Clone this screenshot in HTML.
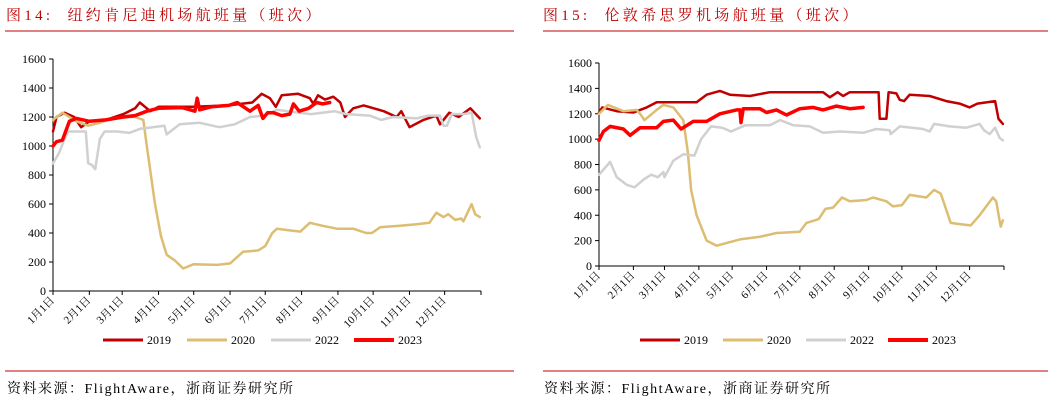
<!DOCTYPE html>
<html><head><meta charset="utf-8"><style>
body{margin:0;background:#fff;width:1057px;height:404px;overflow:hidden;font-family:"Liberation Serif","Noto Serif CJK SC",serif;}
svg{position:absolute;left:0;top:0}
</style></head><body>
<svg id="c" width="1057" height="404">
<text x="6" y="20" fill="#c00000" font-size="15" letter-spacing="3.3" font-family="Liberation Serif, Noto Serif CJK SC, serif">图14:&#160;&#160;纽约肯尼迪机场航班量（班次）</text>
<line x1="5" y1="31" x2="514" y2="31" stroke="#c00000" stroke-width="1"/>
<text x="543" y="20" fill="#c00000" font-size="15" letter-spacing="3.3" font-family="Liberation Serif, Noto Serif CJK SC, serif">图15:&#160;&#160;伦敦希思罗机场航班量（班次）</text>
<line x1="543" y1="31" x2="1048" y2="31" stroke="#c00000" stroke-width="1"/>
<line x1="5" y1="371" x2="514" y2="371" stroke="#c00000" stroke-width="1"/>
<line x1="543" y1="371" x2="1048" y2="371" stroke="#c00000" stroke-width="1"/>
<text x="7" y="393" font-size="14" letter-spacing="1.5" fill="#000">资料来源：FlightAware，浙商证券研究所</text>
<text x="544" y="393" font-size="14" letter-spacing="1.5" fill="#000">资料来源：FlightAware，浙商证券研究所</text>
</svg>
<script>
// ---- Left chart (JFK) data ----
const jfkDays2019=[0,3,10,18,24,31,45,60,70,74,83,90,120,150,160,170,178,185,190,195,209,219,222,226,232,239,245,249,256,265,282,293,297,304,316,327,330,338,346,356,364];
const jfkVals2019=[1100,1200,1230,1200,1130,1170,1180,1220,1260,1300,1240,1270,1270,1280,1290,1300,1360,1330,1270,1350,1360,1330,1290,1350,1320,1340,1300,1200,1260,1280,1240,1200,1240,1130,1180,1210,1150,1230,1200,1260,1190];
const jfkDays2020=[0,8,20,30,40,50,60,70,77,80,87,92,97,104,111,120,140,151,162,175,181,187,191,200,211,219,230,242,256,267,272,279,296,310,321,327,333,337,343,348,350,357,360,364];
const jfkVals2020=[1180,1230,1170,1140,1160,1190,1200,1200,1180,1000,600,380,250,210,155,185,180,190,270,280,310,400,430,420,410,470,450,430,430,400,400,440,450,460,470,540,510,530,490,500,480,600,530,510];
const jfkDays2022=[0,5,10,13,20,28,30,33,36,40,44,55,65,75,85,95,97,108,125,142,155,168,180,191,200,210,220,240,250,270,280,290,310,320,330,333,336,340,350,357,361,364];
const jfkVals2022=[880,950,1050,1100,1100,1100,880,870,840,1050,1100,1100,1090,1120,1130,1140,1080,1150,1160,1130,1150,1200,1210,1250,1240,1230,1220,1240,1220,1210,1180,1200,1190,1210,1210,1140,1140,1220,1220,1230,1060,990];
const jfkDays2023=[0,3,8,14,20,31,45,60,70,80,90,110,121,123,125,135,150,157,168,175,179,183,188,195,202,205,210,218,225,230,236];
const jfkVals2023=[1000,1030,1040,1170,1190,1170,1180,1200,1210,1240,1260,1265,1240,1330,1250,1270,1280,1300,1240,1280,1190,1230,1230,1210,1220,1290,1240,1260,1300,1290,1300];
// ---- Right chart (LHR) data ----
const lhrDays2019=[0,3,16,31,43,52,88,97,109,118,136,154,202,208,215,220,226,252,253,259,261,268,271,275,280,298,313,325,334,341,357,360,364];
const lhrVals2019=[1210,1250,1220,1210,1250,1290,1290,1350,1380,1350,1340,1370,1370,1330,1370,1340,1370,1370,1160,1160,1370,1360,1310,1300,1350,1340,1300,1280,1250,1280,1300,1160,1120];
const lhrDays2020=[0,8,22,34,37,41,52,58,67,76,80,83,88,97,106,127,145,160,181,187,198,204,211,219,226,241,247,259,265,273,280,295,302,308,317,325,335,343,349,355,358,362,364];
const lhrVals2020=[1200,1270,1220,1230,1200,1150,1230,1270,1250,1150,900,600,400,200,160,210,230,260,270,340,370,450,460,540,510,520,540,510,470,480,560,540,600,570,340,330,320,400,470,540,510,310,360];
const lhrDays2022=[0,10,16,25,32,40,47,53,58,59,67,76,86,92,101,111,119,132,154,163,175,190,202,217,238,250,262,263,271,292,298,302,316,331,343,347,352,357,361,364];
const lhrVals2022=[720,820,700,640,620,680,720,700,740,700,830,880,870,1000,1100,1090,1060,1110,1110,1150,1110,1100,1050,1060,1050,1080,1070,1040,1100,1080,1060,1120,1100,1090,1120,1070,1040,1090,1010,990];
const lhrDays2023=[0,4,10,22,28,37,52,58,67,74,85,97,109,124,127,128,130,145,151,160,169,181,193,202,214,226,238];
const lhrVals2023=[990,1060,1100,1080,1030,1090,1090,1140,1150,1080,1140,1140,1200,1230,1230,1130,1240,1240,1210,1230,1190,1240,1250,1230,1260,1240,1250];
const yTicks=[0,200,400,600,800,1000,1200,1400,1600];
const monthLabels=["1月1日","2月1日","3月1日","4月1日","5月1日","6月1日","7月1日","8月1日","9月1日","10月1日","11月1日","12月1日"];
const monthStart=[0,31,59,90,120,151,181,212,243,273,304,334];
const seriesNames=["2019","2020","2022","2023"];
const colors=["#c00000","#dcbd72","#d0d0d0","#ff0000"];
const widths=[2.5,2.5,2.5,3.5];

const NS="http://www.w3.org/2000/svg";
const svg=document.getElementById('c');
function mk(tag,attrs,parent){const e=document.createElementNS(NS,tag);for(const k in attrs)e.setAttribute(k,attrs[k]);(parent||svg).appendChild(e);return e;}

function chart(cfg){
  const g=mk('g',{});
  
  
  const xS=d=>cfg.x0+d*(cfg.x1-cfg.x0)/365;
  const yS=v=>cfg.y0-v*(cfg.y0-cfg.yTop)/1600;
  const ya=mk('line',{x1:cfg.x0,y1:yS(0),x2:cfg.x0,y2:yS(1600),stroke:'#000','stroke-width':1},g);
  
  
  const xa=mk('line',{x1:cfg.x0,y1:yS(0),x2:cfg.x1,y2:yS(0),stroke:'#000','stroke-width':1},g);
  
  
  yTicks.forEach(v=>{
    mk('line',{x1:cfg.x0-4,y1:yS(v),x2:cfg.x0,y2:yS(v),stroke:'#000'},g);
    const t=mk('text',{x:cfg.x0-7,y:yS(v)+4,'text-anchor':'end','font-size':12},g);
    t.textContent=v;
    
    
  });
  monthStart.forEach((d,i)=>{
    const x=xS(d);
    mk('line',{x1:x,y1:yS(0),x2:x,y2:yS(0)+4,stroke:'#000'},g);
    const t=mk('text',{x:x+2,y:yS(0)+10,'text-anchor':'end','font-size':11,transform:`rotate(-45 ${x+2} ${yS(0)+10})`},g);
    t.textContent=monthLabels[i];
    
    
  });
  mk('line',{x1:cfg.x1,y1:yS(0),x2:cfg.x1,y2:yS(0)+4,stroke:'#000'},g);
  cfg.series.forEach((s,i)=>{
    const pts=s.days.map((d,j)=>xS(d).toFixed(1)+','+yS(s.vals[j]).toFixed(1)).join(' ');
    const p=mk('polyline',{points:pts,fill:'none',stroke:colors[i],'stroke-width':widths[i],'stroke-linejoin':'round','stroke-linecap':'round'},g);
    
    
  });
  cfg.legendX.forEach((lx,i)=>{
    const l=mk('line',{x1:lx,y1:340,x2:lx+40,y2:340,stroke:colors[i],'stroke-width':widths[i]+0.5},g);
    
    
    const t=mk('text',{x:lx+44,y:344,'font-size':12},g);
    t.textContent=seriesNames[i];
    
    
  });
}
chart({name:'jfk-chart',x0:53,x1:481,y0:291,yTop:59,legendX:[103,187,271,354],
  series:[{days:jfkDays2019,vals:jfkVals2019},{days:jfkDays2020,vals:jfkVals2020},{days:jfkDays2022,vals:jfkVals2022},{days:jfkDays2023,vals:jfkVals2023}]});
chart({name:'lhr-chart',x0:599,x1:1004,y0:266,yTop:63,legendX:[640,723,806,888],
  series:[{days:lhrDays2019,vals:lhrVals2019},{days:lhrDays2020,vals:lhrVals2020},{days:lhrDays2022,vals:lhrVals2022},{days:lhrDays2023,vals:lhrVals2023}]});
</script>
</body></html>
